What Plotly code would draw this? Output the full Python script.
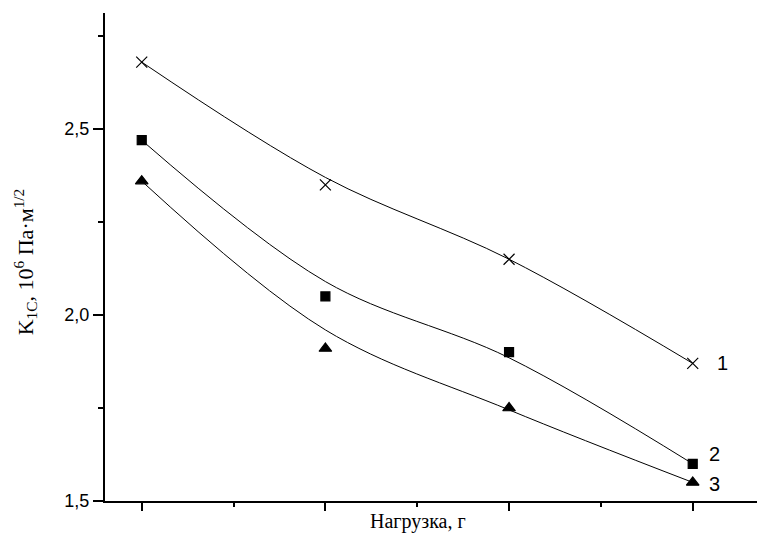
import plotly.graph_objects as go

# Data
load_pos = [1, 2, 3, 4]  # positions of the four loads (no tick labels on x axis)

s1_points = [2.68, 2.35, 2.15, 1.87]
s2_points = [2.47, 2.05, 1.90, 1.60]
s3_points = [2.36, 1.91, 1.75, 1.55]

# smooth fitted curves (values of the fit lines at each load)
s1_curve = [2.68, 2.37, 2.15, 1.87]
s2_curve = [2.47, 2.09, 1.885, 1.60]
s3_curve = [2.36, 1.96, 1.745, 1.55]

series_labels = ["1", "2", "3"]
y_tickvals = [1.5, 2.0, 2.5]
y_ticktext = ["1,5", "2,0", "2,5"]

x_title = "Нагрузка, г"
y_title = "K<sub>1C</sub>, 10<sup>6</sup> Па·м<sup>1/2</sup>"

fig = go.Figure()

curves = [s1_curve, s2_curve, s3_curve]
points = [s1_points, s2_points, s3_points]
symbols = ["x-thin-open", "square", "triangle-up"]
sizes = [11, 9, 11]

for c in curves:
    fig.add_trace(go.Scatter(x=load_pos, y=c, mode="lines",
                             line=dict(color="black", width=1, shape="spline", smoothing=1.0),
                             showlegend=False, hoverinfo="skip"))

for p, sym, sz in zip(points, symbols, sizes):
    fig.add_trace(go.Scatter(x=load_pos, y=p, mode="markers",
                             marker=dict(symbol=sym, size=sz, color="black",
                                         line=dict(color="black", width=1.2)),
                             showlegend=False))

ann_font = dict(family="Liberation Sans, Arial", size=20, color="black")
label_shift = [(30, 0), (22, 10), (22, -2)]
for lab, p, (xs, ys) in zip(series_labels, points, label_shift):
    fig.add_annotation(x=load_pos[-1], y=p[-1], text=lab, showarrow=False,
                       xanchor="center", yanchor="middle", xshift=xs, yshift=ys,
                       font=ann_font)

fig.add_annotation(xref="paper", yref="paper", x=-0.122, y=0.49, text=y_title,
                   textangle=-90, showarrow=False, xanchor="center", yanchor="middle",
                   font=dict(family="Liberation Serif, Times New Roman", size=22, color="black"))
fig.add_annotation(xref="paper", yref="paper", x=0.48, y=-0.043, text=x_title,
                   showarrow=False, xanchor="center", yanchor="middle",
                   font=dict(family="Liberation Serif, Times New Roman", size=20, color="black"))

fig.update_layout(
    width=757, height=534,
    margin=dict(l=105, r=0, t=13, b=33),
    paper_bgcolor="white", plot_bgcolor="white",
    showlegend=False,
    xaxis=dict(range=[0.8, 4.35], showgrid=False, zeroline=False,
               showline=True, linecolor="black", linewidth=2,
               tickmode="array", tickvals=load_pos, showticklabels=False,
               ticks="outside", ticklen=8, tickwidth=1.5, tickcolor="black",
               minor=dict(dtick=0.5, tick0=1, ticks="outside", ticklen=4,
                          tickwidth=1.5, tickcolor="black", showgrid=False)),
    yaxis=dict(range=[1.5, 2.812], showgrid=False, zeroline=False,
               showline=True, linecolor="black", linewidth=2,
               tickmode="array", tickvals=y_tickvals, ticktext=y_ticktext,
               ticks="outside", ticklen=10, tickwidth=1.5, tickcolor="black",
               tickfont=dict(family="Liberation Sans, Arial", size=18, color="black"),
               minor=dict(dtick=0.25, tick0=1.5, ticks="outside", ticklen=5,
                          tickwidth=1.5, tickcolor="black", showgrid=False)),
)

fig.write_html("out.html", config={"displayModeBar": False},
               post_script="document.body.style.margin='0';document.body.style.overflow='hidden';")
